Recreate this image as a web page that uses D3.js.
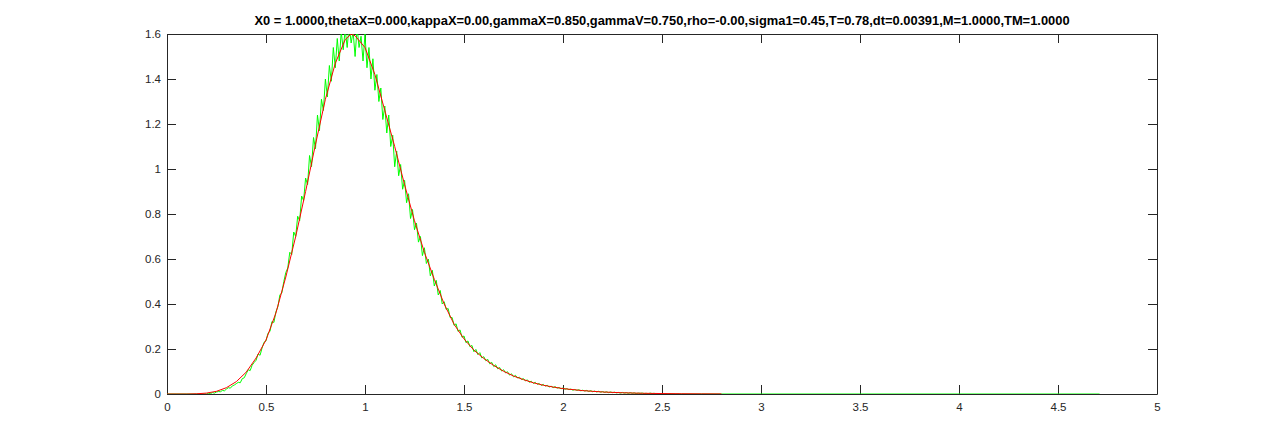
<!DOCTYPE html>
<html>
<head>
<meta charset="utf-8">
<script src="https://cdn.jsdelivr.net/npm/d3@7"></script>
<style>
html,body{margin:0;padding:0;background:#fff;}
svg{display:block;}
</style>
</head>
<body>
<svg id="chart" width="1280" height="443"></svg>
<script>
const titleText = "X0 = 1.0000,thetaX=0.000,kappaX=0.00,gammaX=0.850,gammaV=0.750,rho=-0.00,sigma1=0.45,T=0.78,dt=0.00391,M=1.0000,TM=1.0000";

const xTicks = [0, 0.5, 1, 1.5, 2, 2.5, 3, 3.5, 4, 4.5, 5];
const xTickLabels = ["0","0.5","1","1.5","2","2.5","3","3.5","4","4.5","5"];
const yTicks = [0, 0.2, 0.4, 0.6, 0.8, 1, 1.2, 1.4, 1.6];
const yTickLabels = ["0","0.2","0.4","0.6","0.8","1","1.2","1.4","1.6"];

// red: model density
const redX = [0,0.05,0.10,0.15,0.20,0.25,0.30,0.35,0.40,0.45,0.50,0.55,0.60,0.65,0.70,0.75,0.80,0.85,0.90,0.93,0.95,
  1.00,1.05,1.10,1.15,1.20,1.25,1.30,1.35,1.40,1.45,1.50,1.55,1.60,1.65,1.70,1.75,1.80,1.85,1.90,1.95,
  2.00,2.10,2.20,2.30,2.40,2.50,2.60,2.70,2.80];
const redY = [0,0,0,0.001,0.004,0.012,0.028,0.055,0.097,0.160,0.240,0.360,0.520,0.700,0.900,1.110,1.310,1.470,1.575,1.600,1.592,
  1.540,1.420,1.260,1.100,0.930,0.770,0.630,0.510,0.400,0.310,0.245,0.195,0.158,0.127,0.101,0.080,0.064,0.050,0.039,0.031,
  0.024,0.015,0.009,0.0055,0.0033,0.002,0.0012,0.0007,0.0004];

// green: simulated histogram, bins of 0.01 from 0.20 to 2.60, zero elsewhere up to 4.71
const greenStart = 0.20, greenStep = 0.01, greenEnd = 4.71;
const greenY = [
  0.000,0.003,0.002,0.006,0.004,0.009,0.011,0.010,0.016,0.014,
  0.022,0.028,0.026,0.036,0.040,0.046,0.052,0.050,0.068,0.072,
  0.090,0.108,0.104,0.128,0.140,0.150,0.178,0.172,0.204,0.230,
  0.236,0.270,0.278,0.322,0.318,0.365,0.388,0.440,0.450,0.500,
  0.540,0.560,0.630,0.620,0.720,0.700,0.790,0.770,0.880,0.860,
  0.960,0.930,1.060,1.010,1.140,1.090,1.240,1.170,1.310,1.260,
  1.400,1.320,1.460,1.390,1.540,1.450,1.580,1.480,1.610,1.530,
  1.620,1.540,1.640,1.560,1.610,1.500,1.630,1.540,1.590,1.480,
  1.600,1.450,1.540,1.400,1.490,1.350,1.420,1.300,1.360,1.220,
  1.280,1.160,1.240,1.100,1.150,1.010,1.080,0.970,1.020,0.910,
  0.950,0.850,0.890,0.780,0.820,0.730,0.760,0.675,0.700,0.615,
  0.650,0.580,0.600,0.525,0.550,0.480,0.505,0.440,0.460,0.400,
  0.410,0.376,0.380,0.340,0.340,0.305,0.312,0.278,0.285,0.252,
  0.258,0.228,0.236,0.210,0.216,0.188,0.198,0.175,0.184,0.160,
  0.166,0.148,0.154,0.134,0.141,0.122,0.130,0.112,0.118,0.102,
  0.108,0.094,0.099,0.084,0.090,0.076,0.083,0.071,0.075,0.064,
  0.069,0.058,0.063,0.052,0.057,0.047,0.052,0.043,0.047,0.038,
  0.043,0.035,0.039,0.031,0.035,0.028,0.033,0.026,0.029,0.023,
  0.027,0.021,0.024,0.019,0.022,0.017,0.020,0.016,0.019,0.014,
  0.017,0.013,0.016,0.011,0.015,0.010,0.013,0.009,0.012,0.008,
  0.011,0.007,0.010,0.006,0.009,0.006,0.008,0.005,0.007,0.004,
  0.007,0.004,0.006,0.003,0.006,0.003,0.005,0.002,0.004,0.003,
  0.004,0.002,0.003,0.001,0.004,0.002,0.003,0.001,0.002,0.001,
  0.002,0.001,0.002,0.000,0.002,0.001,0.001,0.000,0.001,0.000,
  0.000];

const W = 1280, H = 443;
const margin = {left:167, right:1280-1157, top:34, bottom:443-394};
const svg = d3.select("#chart");
const x = d3.scaleLinear().domain([0,5]).range([margin.left, W - margin.right]);
const y = d3.scaleLinear().domain([0,1.6]).range([H - margin.bottom, margin.top]);

const axisColor = "#262626";
const font = "'Liberation Sans', Arial, Helvetica, sans-serif";

svg.append("defs").append("clipPath").attr("id","plotclip")
  .append("rect").attr("x", x(0)).attr("y", y(1.6)).attr("width", x(5)-x(0)).attr("height", y(0)-y(1.6));

// data points
const greenPts = [[0,0],[greenStart - greenStep,0]];
greenY.forEach((v,i)=>greenPts.push([greenStart + i*greenStep, v]));
greenPts.push([greenEnd,0]);
const redPts = redX.map((v,i)=>[v, redY[i]]);

const line = d3.line().x(d=>x(d[0])).y(d=>y(d[1]));

// axes
const tickLen = 9;
const bottomAxis = d3.axisBottom(x).tickValues(xTicks).tickFormat((d,i)=>xTickLabels[i]).tickSizeInner(-tickLen).tickSizeOuter(0).tickPadding(9);
const leftAxis = d3.axisLeft(y).tickValues(yTicks).tickFormat((d,i)=>yTickLabels[i]).tickSizeInner(-tickLen).tickSizeOuter(0).tickPadding(6);
const topAxis = d3.axisTop(x).tickValues(xTicks).tickFormat("").tickSizeInner(-tickLen).tickSizeOuter(0);
const rightAxis = d3.axisRight(y).tickValues(yTicks).tickFormat("").tickSizeInner(-tickLen).tickSizeOuter(0);

function styleAxis(g){
  g.select(".domain").attr("stroke", axisColor).attr("stroke-width",1);
  g.selectAll(".tick line").attr("stroke", axisColor).attr("stroke-width",1);
  g.selectAll(".tick text").attr("fill", axisColor).style("font-family", font).style("font-size","11.5px");
}

svg.append("g").attr("transform",`translate(0,${y(0)})`).call(bottomAxis).call(styleAxis);
svg.append("g").attr("transform",`translate(${x(0)},0)`).call(leftAxis).call(styleAxis);
svg.append("g").attr("transform",`translate(0,${y(1.6)})`).call(topAxis).call(styleAxis);
svg.append("g").attr("transform",`translate(${x(5)},0)`).call(rightAxis).call(styleAxis);

const plot = svg.append("g").attr("clip-path","url(#plotclip)");
plot.append("path").datum(greenPts).attr("d", line).attr("fill","none").attr("stroke","#00ff00").attr("stroke-width",1);
plot.append("path").datum(redPts).attr("d", line).attr("fill","none").attr("stroke","#ff0000").attr("stroke-width",1);

svg.append("text")
  .attr("x", (x(0)+x(5))/2).attr("y", 25)
  .attr("text-anchor","middle")
  .style("font-family", font).style("font-size","12.9px").style("font-weight","bold")
  .attr("fill","#000")
  .text(titleText);
</script>
</body>
</html>
